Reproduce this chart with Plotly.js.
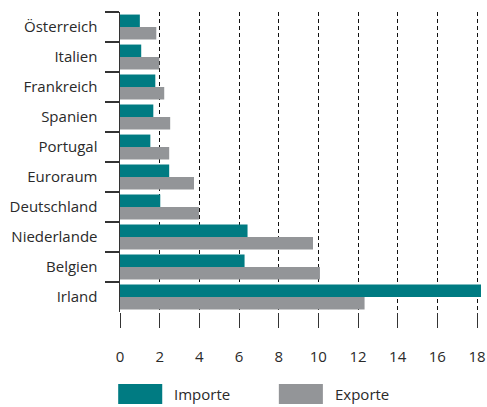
<!DOCTYPE html>
<html>
<head>
<meta charset="utf-8">
<script src="https://cdn.plot.ly/plotly-3.0.1.min.js"></script>
<style>html,body{margin:0;padding:0;background:#fff;}#chart{width:487px;height:407px;}</style>
</head>
<body>
<div id="chart"></div>
<script>
const categories = ["Österreich","Italien","Frankreich","Spanien","Portugal","Euroraum","Deutschland","Niederlande","Belgien","Irland"];
const importe = [1.0, 1.07, 1.78, 1.68, 1.53, 2.48, 2.03, 6.43, 6.28, 18.2];
const exporte = [1.83, 1.98, 2.23, 2.53, 2.48, 3.73, 3.98, 9.73, 10.08, 12.33];
const seriesNames = ["Importe", "Exporte"];
const colors = ["#007b82", "#939598"];
const xTicks = [0,2,4,6,8,10,12,14,16,18];

const font = "Open Sans, Noto Sans, sans-serif";
const txt = "#2a2a2a";

const traces = [
  {type:"bar", orientation:"h", name:seriesNames[0], y:categories, x:importe, marker:{color:colors[0]}, hoverinfo:"x+y"},
  {type:"bar", orientation:"h", name:seriesNames[1], y:categories, x:exporte, marker:{color:colors[1]}, hoverinfo:"x+y"}
];

const layout = {
  width:487, height:407,
  margin:{l:120, r:6, t:12, b:95},
  barmode:"group", bargap:0.17, bargroupgap:0,
  showlegend:false,
  paper_bgcolor:"#fff", plot_bgcolor:"#fff",
  font:{family:font, size:15, color:txt},
  xaxis:{
    range:[0,18.2], tickvals:xTicks, ticktext:xTicks.map(String),
    showgrid:true, gridcolor:"#111", griddash:"4px,3px", gridwidth:1,
    zeroline:false, showline:false,
    ticks:"outside", ticklen:15, tickcolor:"#333", tickwidth:1,
    ticklabelstandoff:16, ticklabeloverflow:"allow",
    tickfont:{family:font, size:15, color:txt}
  },
  yaxis:{
    type:"category", autorange:"reversed",
    showgrid:false, zeroline:false,
    showline:true, linecolor:"#333", linewidth:1.5,
    ticks:"outside", tickson:"boundaries", ticklen:14, tickcolor:"#333", tickwidth:1.5,
    ticklabelstandoff:18,
    tickfont:{family:font, size:15, color:txt}
  },
  shapes:[
    {type:"rect", xref:"paper", yref:"paper", x0:-0.005, x1:0.117, y0:-0.307, y1:-0.24, fillcolor:colors[0], line:{width:0}},
    {type:"rect", xref:"paper", yref:"paper", x0:0.44, x1:0.562, y0:-0.307, y1:-0.24, fillcolor:colors[1], line:{width:0}}
  ],
  annotations:[
    {xref:"paper", yref:"paper", x:0.145, y:-0.273, xanchor:"left", yanchor:"middle", text:seriesNames[0], showarrow:false, font:{family:font, size:15, color:txt}},
    {xref:"paper", yref:"paper", x:0.59, y:-0.273, xanchor:"left", yanchor:"middle", text:seriesNames[1], showarrow:false, font:{family:font, size:15, color:txt}}
  ]
};

Plotly.newPlot("chart", traces, layout, {displayModeBar:false, staticPlot:true});
</script>
</body>
</html>
